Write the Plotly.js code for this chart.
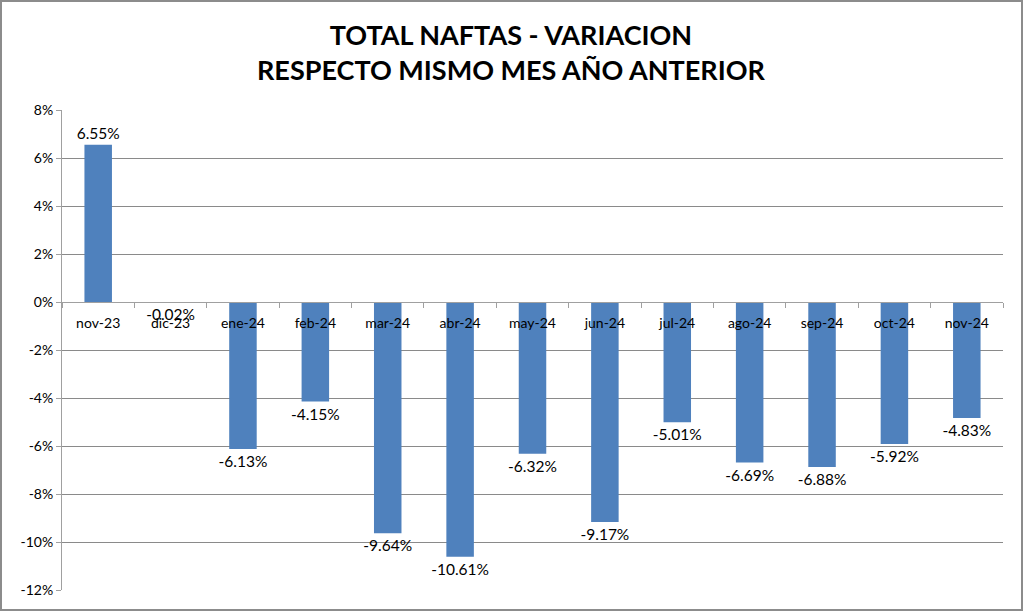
<!DOCTYPE html>
<html>
<head>
<meta charset="utf-8">
<script src="https://cdn.plot.ly/plotly-3.0.1.min.js"></script>
<style>
html,body{margin:0;padding:0;background:#fff;}
#chart{width:1023px;height:611px;box-sizing:border-box;border:2px solid #8c8c8c;}
</style>
</head>
<body>
<div id="chart"></div>
<script>
const categories = ["nov-23","dic-23","ene-24","feb-24","mar-24","abr-24","may-24","jun-24","jul-24","ago-24","sep-24","oct-24","nov-24"];
const values = [6.55, -0.02, -6.13, -4.15, -9.64, -10.61, -6.32, -9.17, -5.01, -6.69, -6.88, -5.92, -4.83];
const yTicks = [-12, -10, -8, -6, -4, -2, 0, 2, 4, 6, 8];
const titleText = "<b>TOTAL NAFTAS - VARIACION<br>RESPECTO MISMO MES AÑO ANTERIOR</b>";

const fontFam = "Lato, 'Open Sans', 'Liberation Sans', sans-serif";

const H = 607, T = 108, B = 19;

const trace = {
  type: "bar",
  x: categories,
  y: values,
  marker: {color: "#4F81BD"},
  text: values.map(v => v.toFixed(2) + "%"),
  textposition: "outside",
  constraintext: "none",
  textfont: {family: fontFam, size: 15.5, color: "#000"},
  cliponaxis: false,
  hoverinfo: "x+y"
};

const layout = {
  width: 1019,
  height: H,
  margin: {l: 60, r: 18, t: T, b: B},
  paper_bgcolor: "#fff",
  plot_bgcolor: "#fff",
  showlegend: false,
  bargap: 0.62,
  annotations: [{
    text: titleText,
    xref: "paper", yref: "paper",
    x: (509 - 60) / (1019 - 60 - 18), xanchor: "center",
    y: (H - B - 50) / (H - T - B), yanchor: "middle",
    showarrow: false,
    align: "center",
    font: {family: fontFam, size: 27, color: "#000"}
  }],
  xaxis: {
    type: "category",
    anchor: "free",
    position: 0.6,
    showline: true,
    linecolor: "#a0a0a0",
    linewidth: 1,
    ticks: "outside",
    tickson: "boundaries",
    ticklen: 5,
    tickcolor: "#a0a0a0",
    ticklabelstandoff: 8,
    showgrid: false,
    tickfont: {family: fontFam, size: 14, color: "#000"},
    fixedrange: true
  },
  yaxis: {
    range: [-12, 8],
    tickvals: yTicks,
    ticktext: yTicks.map(v => v + "%"),
    showline: true,
    linecolor: "#a0a0a0",
    ticks: "outside",
    ticklen: 5,
    tickcolor: "#a0a0a0",
    showgrid: true,
    gridcolor: "#8a8a8a",
    gridwidth: 1,
    zeroline: false,
    tickfont: {family: fontFam, size: 14, color: "#000"},
    fixedrange: true
  }
};

Plotly.newPlot("chart", [trace], layout, {displayModeBar: false, staticPlot: true});
</script>
</body>
</html>
